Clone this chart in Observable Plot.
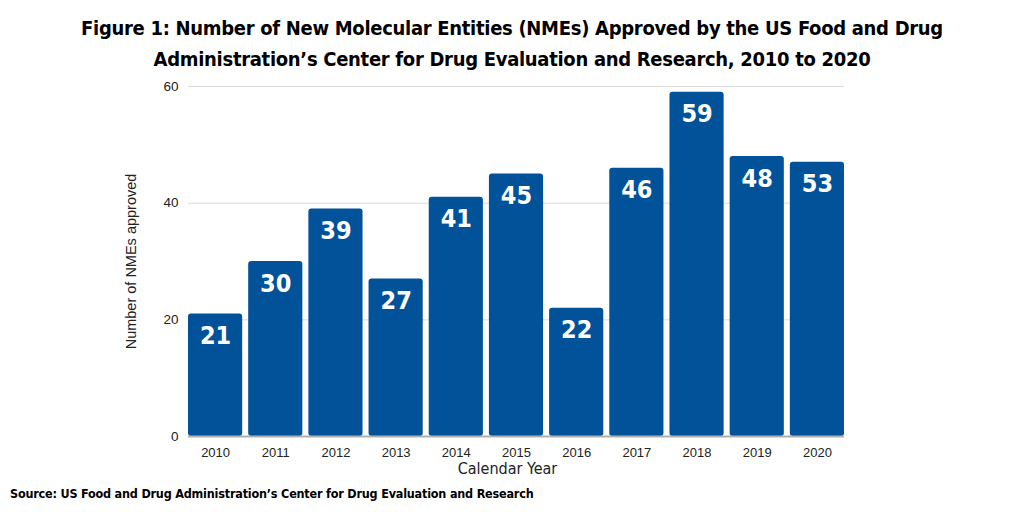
<!DOCTYPE html>
<html>
<head>
<meta charset="utf-8">
<script src="https://cdn.jsdelivr.net/npm/d3@7"></script>
<script src="https://cdn.jsdelivr.net/npm/@observablehq/plot@0.6"></script>
<style>
  html, body { margin: 0; padding: 0; background: #fff; width: 1024px; height: 512px; overflow: hidden; }
  #title { font-family: "DejaVu Sans Condensed", "DejaVu Sans", sans-serif; font-stretch: condensed; font-weight: bold; font-size: 20px; line-height: 31px; text-align: center; color: #000; padding-top: 13px; height: 62px; letter-spacing: -0.3px; }
  #caption { position: absolute; left: 10px; top: 486px; font-family: "DejaVu Sans Condensed", "DejaVu Sans", sans-serif; font-stretch: condensed; font-weight: bold; font-size: 12.5px; color: #000; letter-spacing: -0.2px; }
  #chart { position: absolute; left: 0; top: 75px; }
</style>
</head>
<body>
<div id="title">Figure 1: Number of New Molecular Entities (NMEs) Approved by the US Food and Drug<br>Administration’s Center for Drug Evaluation and Research, 2010 to 2020</div>
<div id="chart"></div>
<div id="caption">Source: US Food and Drug Administration’s Center for Drug Evaluation and Research</div>
<script>
const years = ["2010","2011","2012","2013","2014","2015","2016","2017","2018","2019","2020"];
const barHeights = [21, 30, 39, 27, 41, 45, 22, 46, 59, 48, 47];
const barLabels = ["21","30","39","27","41","45","22","46","59","48","53"];
const yTicks = [0, 20, 40, 60];

const data = years.map((y, i) => ({year: y, value: barHeights[i], label: barLabels[i]}));
const narrow = "'DejaVu Sans Condensed', sans-serif";

const chart = Plot.plot({
  width: 1024,
  height: 410,
  marginLeft: 188,
  marginRight: 180,
  marginTop: 11,
  marginBottom: 49,
  style: {fontFamily: "'Liberation Sans', Arial, sans-serif", fontSize: "13px", color: "#222", background: "#fff"},
  x: {domain: years, padding: 0.1, paddingOuter: 0, round: false, label: null, axis: null},
  y: {domain: [0, 60], label: null, axis: null},
  marks: [
    Plot.gridY(yTicks, {stroke: "#d9d9d9", strokeOpacity: 1, strokeWidth: 1}),
    Plot.text(yTicks, {y: d => d, text: d => String(d), frameAnchor: "left", textAnchor: "end", dx: -10, fontSize: 13.5, fill: "#222"}),
    Plot.text(years, {x: d => d, text: d => d, frameAnchor: "bottom", lineAnchor: "middle", dy: 16, fontSize: 13, fill: "#222"}),
    Plot.rectY(data, {x: "year", y: "value", fill: "#02529a", rx: 3, insetLeft: 0, insetRight: 0}),
    Plot.ruleY([0], {stroke: "#b0b0b0", strokeWidth: 2}),
    Plot.text(data, {x: "year", y: "value", text: "label", dy: 22, fill: "#fff", fontSize: 25, fontWeight: "bold", fontFamily: narrow}),
    Plot.text(["Number of NMEs approved"], {frameAnchor: "left", textAnchor: "middle", lineAnchor: "middle", dx: -57, rotate: -90, fontSize: 14.5, fill: "#222"}),
    Plot.text(["Calendar Year"], {frameAnchor: "bottom", lineAnchor: "middle", dx: -9, dy: 32, fontSize: 16, fill: "#222", fontFamily: narrow})
  ]
});
document.getElementById("chart").appendChild(chart);
</script>
</body>
</html>
